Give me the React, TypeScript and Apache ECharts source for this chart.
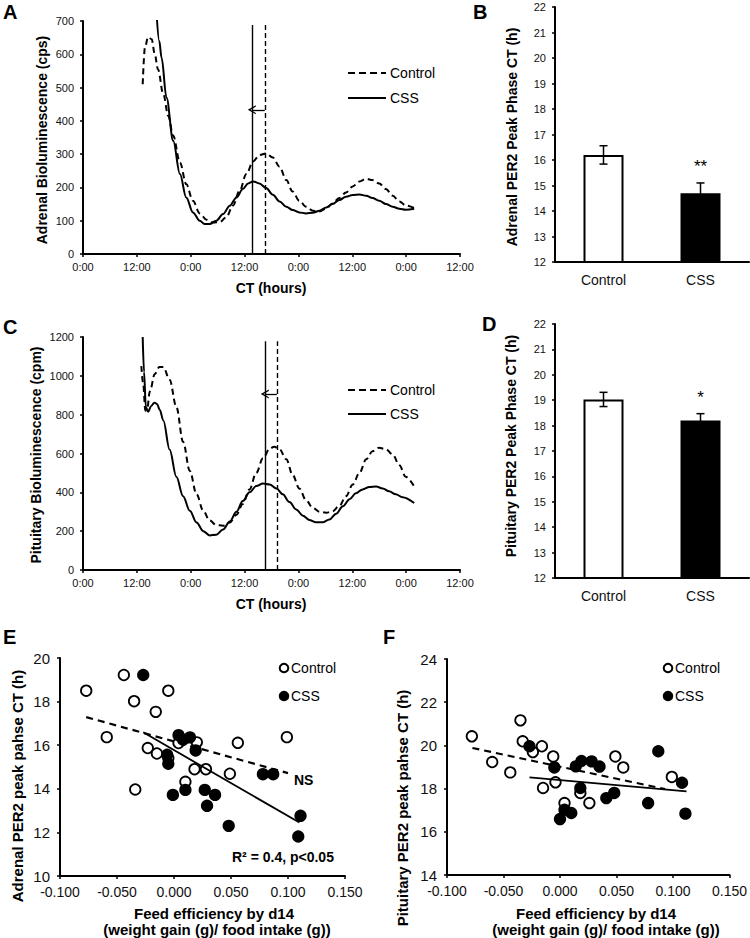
import React, { useEffect, useRef } from 'react';
import * as echarts from 'echarts';

const FONT = '"Liberation Sans", Arial, Helvetica, sans-serif';

// ---------- Panels A / C : bioluminescence time courses (CT hours) ----------
const ctMin = 0;
const ctMax = 84;
const ctStep = 12;
const ctTickLabels = ['0:00', '12:00'];

const adrenalControl: number[][] = [
  [13.3, 510], [13.8, 620], [14.5, 652], [15.3, 645], [16.0, 600], [16.7, 555], [17.9, 480],
  [19.0, 415], [20.1, 355], [21.6, 275], [23.0, 210], [24.5, 160], [26.0, 122], [27.5, 103],
  [29.0, 95], [30.5, 96], [31.9, 110], [33.4, 145], [34.9, 190], [36.4, 240], [37.9, 278],
  [39.3, 297], [40.8, 302], [42.3, 290], [43.8, 262], [45.3, 222], [46.7, 188], [48.2, 160],
  [49.7, 142], [51.2, 130], [52.7, 128], [54.2, 137], [55.6, 152], [57.1, 168], [58.6, 185],
  [60.1, 203], [61.6, 218], [63.1, 226], [64.5, 222], [66.0, 212], [67.5, 195], [69.0, 175],
  [70.5, 158], [71.9, 146], [73.8, 138],
];
const adrenalCSS: number[][] = [
  [16.4, 720], [17.0, 640], [17.5, 590], [18.6, 470], [20.1, 340], [21.6, 240], [23.0, 170],
  [24.5, 125], [26.0, 100], [27.1, 90], [28.2, 90], [29.7, 100], [31.2, 120], [32.7, 145],
  [34.2, 170], [35.6, 195], [36.8, 212], [37.9, 218], [39.3, 212], [40.8, 198], [42.3, 178],
  [43.8, 158], [45.3, 142], [46.7, 132], [48.2, 125], [49.7, 122], [51.2, 124], [52.7, 130],
  [54.2, 140], [55.6, 150], [57.1, 162], [58.6, 172], [60.1, 177], [61.6, 179], [63.1, 175],
  [64.5, 168], [66.0, 160], [67.5, 150], [69.0, 142], [70.5, 136], [71.9, 133], [73.8, 136],
];
const adrenalPeakControl = 40.5;
const adrenalPeakCSS = 37.6;
const adrenalLineTop = 688;
const adrenalArrowLevel = 433;

const pituitaryControl: number[][] = [
  [13.0, 1050], [13.4, 960], [13.9, 820], [14.3, 830], [14.9, 920], [16.0, 1010], [17.0, 1045],
  [17.9, 1045], [19.3, 980], [20.8, 840], [22.3, 660], [23.8, 510], [25.3, 390], [26.8, 305],
  [28.2, 255], [29.7, 232], [31.2, 228], [32.7, 245], [34.2, 285], [35.6, 340], [37.1, 415],
  [38.6, 500], [40.1, 575], [41.6, 625], [42.6, 635], [43.8, 622], [45.3, 570], [46.7, 490],
  [48.2, 420], [49.7, 360], [51.2, 320], [52.7, 300], [54.2, 295], [55.6, 302], [57.1, 330],
  [58.6, 380], [60.1, 440], [61.6, 500], [63.1, 570], [64.5, 612], [66.0, 630], [67.5, 622],
  [69.0, 595], [70.5, 540], [71.9, 480], [73.8, 430],
];
const pituitaryCSS: number[][] = [
  [13.3, 1200], [13.6, 1020], [14.0, 840], [14.5, 815], [15.2, 845], [15.9, 862], [16.5, 855],
  [17.1, 825], [17.9, 770], [19.3, 620], [20.8, 480], [22.3, 380], [23.8, 305], [25.3, 245],
  [26.8, 200], [28.2, 178], [29.7, 182], [31.2, 208], [32.7, 250], [34.2, 300], [35.6, 355],
  [37.1, 400], [38.6, 432], [40.1, 445], [41.6, 440], [43.1, 420], [44.5, 390], [46.0, 350],
  [47.5, 312], [49.0, 280], [50.4, 258], [51.9, 246], [53.4, 246], [54.9, 260], [56.4, 290],
  [57.9, 328], [59.4, 365], [60.8, 395], [62.3, 415], [63.8, 428], [65.3, 430], [66.8, 420],
  [68.2, 405], [69.7, 390], [71.2, 375], [73.8, 345],
];
const pituitaryPeakControl = 43.2;
const pituitaryPeakCSS = 40.5;
const pituitaryLineTop = 1178;
const pituitaryArrowLevel = 906;

// ---------- Panels B / D : peak phase bars ----------
const groups = ['Control', 'CSS'];
const adrenalPhaseMean = [16.2, 14.7];
const adrenalPhaseSEM = [0.36, 0.4];
const adrenalSig = ['', '**'];
const pituitaryPhaseMean = [19.03, 18.2];
const pituitaryPhaseSEM = [0.28, 0.27];
const pituitarySig = ['', '*'];

// ---------- Panels E / F : feed efficiency vs peak phase ----------
const eControl: number[][] = [
  [-0.077, 18.5], [-0.044, 19.22], [-0.035, 18.02], [-0.005, 18.5], [-0.016, 17.53],
  [-0.059, 16.37], [-0.023, 15.87], [-0.015, 15.62], [-0.005, 15.41], [0.004, 16.1],
  [0.02, 16.13], [0.018, 14.9], [0.028, 14.9], [0.01, 14.32], [-0.034, 13.97],
  [0.049, 14.69], [0.056, 16.11], [0.099, 16.37],
];
const eCSS: number[][] = [
  [-0.027, 19.22], [0.004, 16.46], [0.008, 16.25], [0.014, 16.36], [0.019, 15.76],
  [-0.006, 15.56], [-0.005, 15.15], [-0.001, 13.72], [0.01, 13.95], [0.027, 13.95],
  [0.036, 13.72], [0.029, 13.22], [0.048, 12.3], [0.078, 14.67], [0.087, 14.67],
  [0.111, 12.76], [0.109, 11.81],
];
const eTrendControl: number[][] = [[-0.077, 17.29], [0.1, 14.72]];
const eTrendCSS: number[][] = [[-0.027, 16.59], [0.11, 12.45]];

const fControl: number[][] = [
  [-0.078, 20.42], [-0.06, 19.23], [-0.044, 18.75], [-0.035, 21.16], [-0.033, 20.19],
  [-0.024, 19.69], [-0.016, 19.96], [-0.006, 19.49], [-0.004, 18.29], [-0.015, 18.03],
  [0.004, 17.33], [0.018, 17.8], [0.026, 17.33], [0.049, 19.49], [0.056, 18.98], [0.099, 18.54],
];
const fCSS: number[][] = [
  [-0.027, 19.96], [-0.005, 18.98], [0.014, 19.03], [0.019, 19.28], [0.028, 19.26],
  [0.035, 19.02], [0.018, 18.03], [0.004, 17.02], [0.01, 16.87], [0.0, 16.59],
  [0.041, 17.56], [0.048, 17.8], [0.078, 17.33], [0.087, 19.73], [0.108, 18.27], [0.111, 16.84],
];
const fTrendControl: number[][] = [[-0.0775, 19.88], [0.093, 17.98]];
const fTrendCSS: number[][] = [[-0.027, 18.52], [0.112, 17.87]];

// ---------------------------------------------------------------------------
const CHEVRON = 'path://M0,10 L5,0 L10,10 L8.4,10 L5,3.4 L1.6,10 Z';

const axisLine = { show: true, onZero: false, lineStyle: { color: '#000', width: 2 } };
const axisTick = { show: true, length: 3, lineStyle: { color: '#000', width: 1.5 } };

function ctAxis(gridIndex: number) {
  return {
    type: 'value', gridIndex, min: ctMin, max: ctMax, interval: ctStep,
    axisLine, axisTick, splitLine: { show: false },
    axisLabel: {
      color: '#111', fontSize: 11, fontFamily: FONT, margin: 7,
      formatter: (v: number) => ctTickLabels[Math.round(v / ctStep) % 2],
    },
  };
}
function catAxis(gridIndex: number) {
  return {
    type: 'category', gridIndex, data: groups,
    axisLine, axisTick: { show: false }, splitLine: { show: false },
    axisLabel: { color: '#111', fontSize: 14, fontFamily: FONT, margin: 11 },
  };
}
function valAxis(gridIndex: number, min: number, max: number, interval: number, fontSize: number, margin: number, fmt?: (v: number) => string) {
  return {
    type: 'value', gridIndex, min, max, interval,
    axisLine, axisTick, splitLine: { show: false },
    axisLabel: { color: '#111', fontSize, fontFamily: FONT, margin, formatter: fmt || ((v: number) => String(v)) },
  };
}

function timeSeries(name: string, xi: number, data: number[][], dashed: boolean, peak: number, top: number, arrow?: { from: number; level: number }) {
  const mlData: any[] = [[{ coord: [peak, 0] }, { coord: [peak, top] }]];
  if (arrow) {
    mlData.push([
      { coord: [arrow.from, arrow.level], symbol: 'none', lineStyle: { type: 'solid', width: 1.3 } },
      { coord: [peak, arrow.level], symbol: CHEVRON, symbolSize: [9, 8] },
    ]);
  }
  return {
    name, type: 'line', xAxisIndex: xi, yAxisIndex: xi, data,
    symbol: 'none', showSymbol: false, smooth: 0.35, smoothMonotone: 'x', clip: true,
    lineStyle: { color: '#000', width: 2, type: dashed ? [6, 4] : 'solid' },
    itemStyle: { color: '#000' },
    markLine: {
      silent: true, symbol: ['none', 'none'], animation: false,
      label: { show: false },
      lineStyle: { color: '#000', width: 1.4, type: dashed ? [5, 3] : 'solid' },
      emphasis: { disabled: true },
      data: mlData,
    },
    z: 3,
  };
}

function barSeries(xi: number, means: number[]) {
  return {
    type: 'bar', xAxisIndex: xi, yAxisIndex: xi, barWidth: 40,
    data: means.map((m, i) => ({
      value: m,
      itemStyle: { color: i === 0 ? '#fff' : '#000', borderColor: '#000', borderWidth: 2 },
    })),
    z: 2,
  };
}

function errorSeries(xi: number, means: number[], sems: number[], sig: string[]) {
  return {
    type: 'custom', xAxisIndex: xi, yAxisIndex: xi, silent: true, z: 4,
    data: means.map((m, i) => [i, m, sems[i]]),
    renderItem: (params: any, api: any) => {
      const i = api.value(0);
      const m = api.value(1);
      const e = api.value(2);
      const top = api.coord([i, m + e]);
      const bot = api.coord([i, m - e]);
      const cap = 4;
      const st = { stroke: '#000', lineWidth: 1.5 };
      const children: any[] = [
        { type: 'line', shape: { x1: top[0], y1: top[1], x2: bot[0], y2: bot[1] }, style: st },
        { type: 'line', shape: { x1: top[0] - cap, y1: top[1], x2: top[0] + cap, y2: top[1] }, style: st },
        { type: 'line', shape: { x1: bot[0] - cap, y1: bot[1], x2: bot[0] + cap, y2: bot[1] }, style: st },
      ];
      const s = sig[params.dataIndex];
      if (s) {
        children.push({
          type: 'text', x: top[0], y: top[1] - 8,
          style: { text: s, fill: '#000', font: `17px ${FONT}`, align: 'center', verticalAlign: 'bottom' },
        });
      }
      return { type: 'group', children };
    },
  };
}

function scatterSeries(name: string, xi: number, data: number[][], filled: boolean) {
  return {
    name, type: 'scatter', xAxisIndex: xi, yAxisIndex: xi, data,
    symbol: 'circle', symbolSize: 10.5,
    itemStyle: { color: filled ? '#000' : '#fff', borderColor: '#000', borderWidth: 1.8, opacity: 1 },
    z: 3,
  };
}
function trendSeries(name: string, xi: number, data: number[][], dashed: boolean) {
  return {
    name, type: 'line', xAxisIndex: xi, yAxisIndex: xi, data, symbol: 'none', showSymbol: false,
    lineStyle: { color: '#000', width: dashed ? 2.2 : 1.8, type: dashed ? [7, 5] : 'solid' },
    z: 4,
  };
}

function txt(text: string, x: number, y: number, size: number, bold: boolean, opts: any = {}) {
  const align = opts.align || 'center';
  return {
    type: 'text', x, y, rotation: opts.rotate ? Math.PI / 2 : 0, silent: true, z: 10,
    style: {
      text, fill: '#000', font: `${bold ? 'bold ' : ''}${size}px ${FONT}`,
      align, textAlign: align, verticalAlign: 'middle', textVerticalAlign: 'middle',
    },
  };
}
function legendDot(x: number, y: number, filled: boolean) {
  return {
    type: 'circle', silent: true, z: 10,
    shape: { cx: x, cy: y, r: 4.3 },
    style: { fill: filled ? '#000' : '#fff', stroke: '#000', lineWidth: 2 },
  };
}
function legendLine(x: number, y: number, dashed: boolean) {
  return {
    type: 'line', silent: true, z: 10,
    shape: { x1: x, y1: y, x2: x + 38, y2: y },
    style: { stroke: '#000', lineWidth: 2, lineDash: dashed ? [7, 4] : null },
  };
}

export default function App() {
  const ref = useRef<HTMLDivElement>(null);
  useEffect(() => {
    if (!ref.current) return;
    const chart = echarts.init(ref.current, undefined, { renderer: 'svg' });
    const fmt3 = (v: number) => v.toFixed(3);
    const option: any = {
      animation: false,
      backgroundColor: '#fff',
      textStyle: { fontFamily: FONT },
      grid: [
        { left: 83, top: 21, width: 377, height: 233 },
        { left: 555, top: 7, width: 194, height: 255 },
        { left: 83, top: 337, width: 377, height: 233 },
        { left: 555, top: 324, width: 194, height: 254 },
        { left: 60, top: 658, width: 285, height: 218 },
        { left: 447, top: 659, width: 285, height: 216 },
      ],
      xAxis: [
        ctAxis(0),
        catAxis(1),
        ctAxis(2),
        catAxis(3),
        valAxis(4, -0.1, 0.15, 0.05, 14, 9, fmt3),
        valAxis(5, -0.1, 0.15, 0.05, 14, 9, fmt3),
      ],
      yAxis: [
        valAxis(0, 0, 700, 100, 11, 9),
        valAxis(1, 12, 22, 1, 11, 9),
        valAxis(2, 0, 1200, 200, 11, 9),
        valAxis(3, 12, 22, 1, 11, 9),
        valAxis(4, 10, 20, 2, 15, 10),
        valAxis(5, 14, 24, 2, 15, 10),
      ],
      series: [
        timeSeries('Control', 0, adrenalControl, true, adrenalPeakControl, adrenalLineTop),
        timeSeries('CSS', 0, adrenalCSS, false, adrenalPeakCSS, adrenalLineTop, { from: adrenalPeakControl, level: adrenalArrowLevel }),
        timeSeries('Control', 2, pituitaryControl, true, pituitaryPeakControl, pituitaryLineTop),
        timeSeries('CSS', 2, pituitaryCSS, false, pituitaryPeakCSS, pituitaryLineTop, { from: pituitaryPeakControl, level: pituitaryArrowLevel }),
        barSeries(1, adrenalPhaseMean),
        errorSeries(1, adrenalPhaseMean, adrenalPhaseSEM, adrenalSig),
        barSeries(3, pituitaryPhaseMean),
        errorSeries(3, pituitaryPhaseMean, pituitaryPhaseSEM, pituitarySig),
        scatterSeries('Control', 4, eControl, false),
        scatterSeries('CSS', 4, eCSS, true),
        trendSeries('Control fit', 4, eTrendControl, true),
        trendSeries('CSS fit', 4, eTrendCSS, false),
        scatterSeries('Control', 5, fControl, false),
        scatterSeries('CSS', 5, fCSS, true),
        trendSeries('Control fit', 5, fTrendControl, true),
        trendSeries('CSS fit', 5, fTrendCSS, false),
      ],
      graphic: [
        // panel letters
        txt('A', 3, 12, 20, true, { align: 'left' }),
        txt('B', 473, 12, 20, true, { align: 'left' }),
        txt('C', 3, 327, 20, true, { align: 'left' }),
        txt('D', 482, 324, 20, true, { align: 'left' }),
        txt('E', 3, 637, 20, true, { align: 'left' }),
        txt('F', 383, 637, 20, true, { align: 'left' }),
        // axis titles
        txt('Adrenal Bioluminescence (cps)', 42, 140, 14, true, { rotate: true }),
        txt('CT (hours)', 271, 288, 14, true),
        txt('Adrenal PER2 Peak Phase CT (h)', 512, 137, 14, true, { rotate: true }),
        txt('Pituitary Bioluminescence (cpm)', 36, 455, 14, true, { rotate: true }),
        txt('CT (hours)', 271, 604, 14, true),
        txt('Pituitary PER2 Peak Phase CT (h)', 511, 446, 14, true, { rotate: true }),
        txt('Adrenal PER2 peak pahse CT (h)', 17, 786, 15, true, { rotate: true }),
        txt('Feed efficiency by d14', 214, 913, 15, true),
        txt('(weight gain (g)/ food intake (g))', 217, 929, 15, true),
        txt('Pituitary PER2 peak pahse CT (h)', 402, 808, 15, true, { rotate: true }),
        txt('Feed efficiency by d14', 596, 913, 15, true),
        txt('(weight gain (g)/ food intake (g))', 606, 929, 15, true),
        // A / C legends
        legendLine(348, 73, true),
        txt('Control', 390, 73, 14, false, { align: 'left' }),
        legendLine(348, 98, false),
        txt('CSS', 390, 98, 14, false, { align: 'left' }),
        legendLine(348, 390, true),
        txt('Control', 390, 390, 14, false, { align: 'left' }),
        legendLine(348, 414, false),
        txt('CSS', 390, 414, 14, false, { align: 'left' }),
        // E / F legends and annotations
        legendDot(284, 668, false),
        txt('Control', 291, 668, 14, false, { align: 'left' }),
        legendDot(284, 696, true),
        txt('CSS', 291, 696, 14, false, { align: 'left' }),
        legendDot(668, 668, false),
        txt('Control', 675, 668, 14, false, { align: 'left' }),
        legendDot(668, 696, true),
        txt('CSS', 675, 696, 14, false, { align: 'left' }),
        txt('NS', 294, 780, 14, true, { align: 'left' }),
        txt('R² = 0.4, p<0.05', 232, 857, 14, true, { align: 'left' }),
      ],
    };
    chart.setOption(option);
    return () => chart.dispose();
  }, []);
  return <div ref={ref} style={{ position: 'absolute', left: 0, top: 0, width: 750, height: 938 }} />;
}
